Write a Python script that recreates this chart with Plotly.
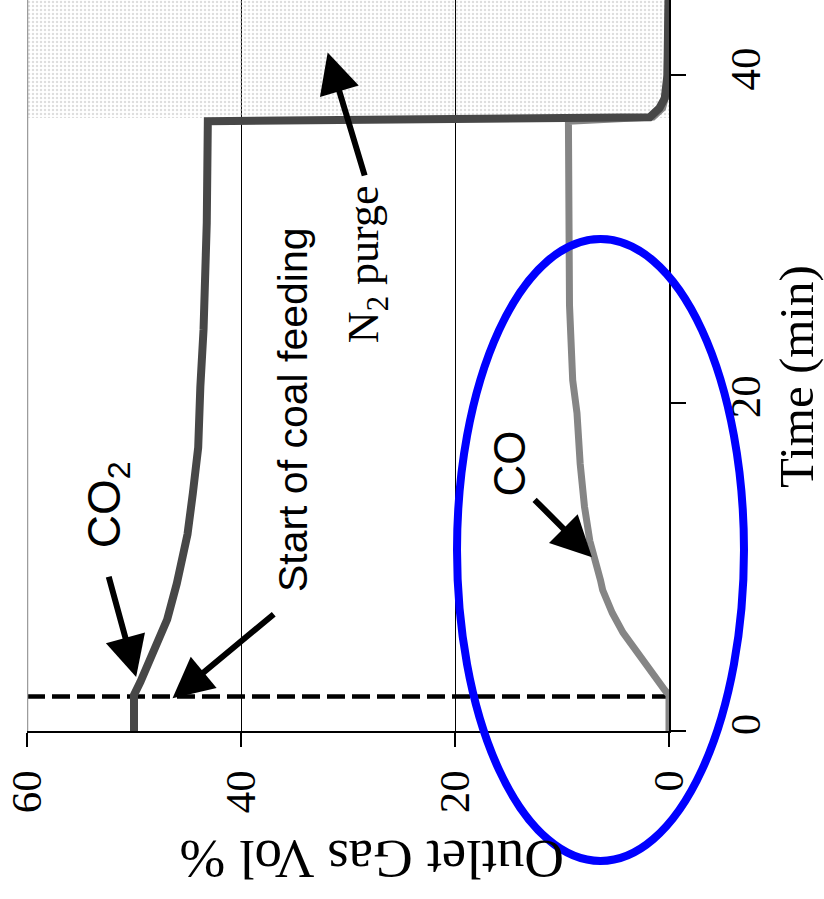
import plotly.graph_objects as go

# Outlet gas composition during the coal-feeding run (time in min, gas in vol %)
co2_time = [0, 2.2, 3.0, 4.3, 5.5, 6.8, 9.0, 12.0, 14.5, 17.3, 21.0, 24.5, 31.0, 37.2, 37.45, 38.0, 38.6, 40.0, 44.6]
co2_vol = [50.0, 50.0, 49.4, 48.5, 47.6, 46.9, 46.0, 45.0, 44.5, 44.0, 43.8, 43.5, 43.2, 43.1, 1.8, 0.9, 0.4, 0.15, 0.05]

co_time = [0, 2.2, 2.5, 3.7, 4.8, 6.0, 7.2, 8.6, 9.2, 11.6, 13.7, 16.3, 19.4, 21.4, 26.0, 31.0, 37.2, 37.45, 38.0, 39.0, 44.6]
co_vol = [0, 0, 0.4, 1.8, 3.0, 4.3, 5.3, 6.2, 6.4, 7.4, 7.9, 8.3, 8.6, 9.0, 9.3, 9.35, 9.4, 1.5, 0.6, 0.2, 0.05]

feed_start = 2.1      # min, start of coal feeding
purge_start = 37.4    # min, N2 purge begins

vol_ticks = [0, 20, 40, 60]
time_ticks = [0, 20, 40]
vol_range = [60, 0]
time_range = [0, 44.6]

SERIF = "Liberation Serif"
SANS = "Liberation Sans"

fig = go.Figure()

# N2 purge period (stippled band)
fig.add_trace(go.Scatter(
    x=[vol_range[1], vol_range[0], vol_range[0], vol_range[1]],
    y=[purge_start, purge_start, time_range[1] + 5, time_range[1] + 5],
    fill="toself", mode="lines", line=dict(width=0),
    fillcolor="rgba(0,0,0,0)",
    fillpattern=dict(shape=".", fgcolor="#bcbcbc", bgcolor="rgba(255,255,255,0)",
                     size=4, solidity=0.3),
    hoverinfo="skip", showlegend=False,
))

# start of coal feeding marker
fig.add_trace(go.Scatter(
    x=[vol_range[0], vol_range[1]], y=[feed_start, feed_start],
    mode="lines", line=dict(color="black", width=4.5, dash="18px,7px"),
    showlegend=False, hoverinfo="skip",
))

fig.add_trace(go.Scatter(
    x=co_vol, y=co_time, mode="lines",
    line=dict(color="#858585", width=7), showlegend=False, name="CO",
))
fig.add_trace(go.Scatter(
    x=co2_vol, y=co2_time, mode="lines",
    line=dict(color="#474747", width=8), showlegend=False, name="CO2",
))

arrow = dict(xref="x", yref="y", axref="x", ayref="y", text="", showarrow=True,
             arrowhead=2, arrowwidth=6, arrowsize=1.35, arrowcolor="black", standoff=0)

annotations = [
    dict(arrow, x=49.8, y=3.3, ax=52.4, ay=9.5),
    dict(arrow, x=46.4, y=2.0, ax=36.8, ay=7.2),
    dict(arrow, x=31.9, y=41.4, ax=28.4, ay=33.8),
    dict(arrow, x=7.2, y=10.6, ax=12.7, ay=14.2),
    dict(x=52.4, y=13.8, xref="x", yref="y", text="CO<sub>2</sub>", showarrow=False,
         textangle=-90, font=dict(family=SANS, size=46, color="black")),
    dict(x=35.2, y=19.6, xref="x", yref="y", text="Start of coal feeding", showarrow=False,
         textangle=-90, font=dict(family=SANS, size=41, color="black")),
    dict(x=28.2, y=28.5, xref="x", yref="y", text="N<sub>2</sub> purge", showarrow=False,
         textangle=-90, font=dict(family=SERIF, size=44, color="black")),
    dict(x=14.9, y=16.3, xref="x", yref="y", text="CO", showarrow=False,
         textangle=-90, font=dict(family=SANS, size=44, color="black")),
    dict(x=1.1994, y=0.4843, xref="paper", yref="paper", text="Time (min)", showarrow=False,
         textangle=-90, xanchor="center", yanchor="middle",
         font=dict(family=SERIF, size=49, color="black")),
    dict(x=0.5374, y=-0.1765, xref="paper", yref="paper", text="Outlet Gas Vol %", showarrow=False,
         textangle=180, xanchor="center", yanchor="middle",
         font=dict(family=SERIF, size=55, color="black")),
]

shapes = [
    # light frame line at the 60 % edge
    dict(type="line", xref="x", yref="paper", x0=vol_range[0], x1=vol_range[0], y0=0, y1=1,
         line=dict(color="#9c9c9c", width=2.5)),
    # highlight ellipse around the CO trace
    dict(type="circle", xref="paper", yref="paper", x0=0.6698, x1=1.1168, y0=-0.1778, y1=0.673,
         line=dict(color="#0000ff", width=8)),
]

fig.update_layout(
    width=824, height=899,
    margin=dict(l=27, r=155, t=0, b=168),
    paper_bgcolor="white", plot_bgcolor="white",
    font=dict(family=SERIF, color="black"),
    annotations=annotations, shapes=shapes,
    xaxis=dict(range=vol_range, tickvals=vol_ticks, ticks="outside", ticklen=14, tickwidth=1.5,
               tickcolor="black", showline=True, linecolor="black", linewidth=2,
               showgrid=True, gridcolor="black", gridwidth=1, zeroline=False,
               tickangle=-90, ticklabelstandoff=6,
               tickfont=dict(family=SERIF, size=43, color="black")),
    yaxis=dict(range=time_range, tickvals=time_ticks, side="right", ticks="outside", ticklen=15,
               tickwidth=1.5, tickcolor="black", showline=True, linecolor="black", linewidth=2,
               showgrid=False, zeroline=False, tickangle=-90, ticklabelstandoff=22,
               tickfont=dict(family=SERIF, size=43, color="black")),
)

fig.write_html("out.html")
